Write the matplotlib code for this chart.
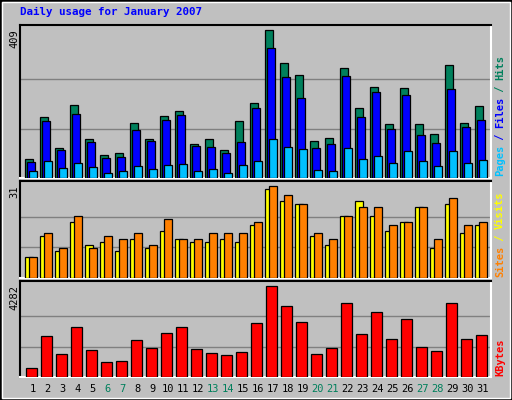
import matplotlib
matplotlib.use("Agg")
import matplotlib.pyplot as plt
from matplotlib.patches import Rectangle

days = list(range(1, 32))
weekend = [6, 7, 13, 14, 20, 21, 27, 28]
hits = [53,169,83,202,108,63,68,152,108,171,185,94,108,77,158,208,409,319,286,102,111,305,194,252,149,249,149,121,313,152,199]
files = [44,158,77,177,100,55,58,132,102,160,173,88,85,69,100,194,358,280,221,83,94,283,169,238,135,230,119,96,246,141,160]
pages = [19,46,27,41,30,15,19,32,24,35,38,19,24,15,35,46,108,85,80,21,19,83,52,60,41,74,46,32,74,41,49]
visits = [7,14,9,19,11,12,9,13,10,16,13,12,12,13,12,18,30,26,25,14,11,21,26,21,16,19,24,10,25,15,18]
sites = [7,15,10,21,10,14,13,15,11,20,13,13,15,15,15,19,31,28,25,15,13,21,24,24,18,19,24,13,27,18,19]
kbytes = [438,1938,1094,2360,1282,719,766,1751,1375,2079,2360,1329,1141,1047,1188,2548,4282,3345,2594,1094,1375,3485,2032,3063,1797,2735,1422,1235,3485,1797,1985]

W, H = 512, 400
SLOT = 15.0
fig = plt.figure(figsize=(W/100, H/100), dpi=100)
fig.patch.set_facecolor('#C0C0C0')
fig.add_artist(Rectangle((0, 0), 1, 1, transform=fig.transFigure, fill=False, ec='black', lw=2))
fig.add_artist(Rectangle((2/W, 2/H), 1-4/W, 1-4/H, transform=fig.transFigure, fill=False, ec='white', lw=1))

mono = 'DejaVu Sans Mono'
GRID = '#808080'

def mkax(y0, y1):
    ax = fig.add_axes([20/W, 1-y1/H, 471/W, (y1-y0)/H])
    ax.set_facecolor('#C0C0C0')
    ax.set_xlim(0, 471/SLOT)
    ax.set_xticks([]); ax.set_yticks([])
    for s in ['left', 'top']:
        ax.spines[s].set_color('black')
    for s in ['right', 'bottom']:
        ax.spines[s].set_color('white')
    for sp in ax.spines.values():
        sp.set_linewidth(1.5)
    return ax

def bars(ax, vals, off, w, color):
    ax.bar([d-1+off for d in days], vals, width=w, align='edge', color=color,
           edgecolor='black', linewidth=0.9, zorder=3)

ax1 = mkax(25, 178)
top1 = max(hits)
ax1.set_ylim(0, top1*152/147)
for f in (1/3, 2/3):
    ax1.axhline(top1*f, color=GRID, lw=1, zorder=1)
bars(ax1, hits, 0.35, 0.49, '#00805C')
bars(ax1, files, 0.47, 0.50, '#0000FF')
bars(ax1, pages, 0.62, 0.49, '#00C0FF')

ax2 = mkax(181, 278)
top2 = max(sites)
ax2.set_ylim(0, top2*97/92)
for f in (1/3, 2/3):
    ax2.axhline(top2*f, color=GRID, lw=1, zorder=1)
bars(ax2, visits, 0.35, 0.49, '#FFFF00')
bars(ax2, sites, 0.62, 0.49, '#FF8000')

ax3 = mkax(281, 377)
top3 = max(kbytes)
ax3.set_ylim(0, top3*96/91)
for f in (1/3, 2/3):
    ax3.axhline(top3*f, color=GRID, lw=1, zorder=1)
bars(ax3, kbytes, 0.42, 0.69, '#FF0000')

fig.text(20/W, 1-12/H, 'Daily usage for January 2007', color='#0000FF', family=mono,
         fontweight='bold', fontsize=7.8, va='center', ha='left')

for y, t in [(29, str(max(hits))), (185, str(max(sites))), (285, str(max(kbytes)))]:
    fig.text(14/W, 1-y/H, t, rotation=90, family=mono, fontsize=7.5, ha='center', va='top')

for d in days:
    x = 20 + (d-1)*SLOT + 12.5
    fig.text(x/W, 1-389/H, str(d), family=mono, fontsize=7.5, ha='center', va='center',
             color='#00805C' if d in weekend else 'black')

def rlabel(parts, ybot):
    y = ybot
    for txt, col in parts:
        fig.text(500/W, 1-y/H, txt, rotation=90, family=mono, fontsize=7.5,
                 color=col, ha='center', va='bottom', fontweight='bold')
        y -= len(txt)*6.0

rlabel([('Pages', '#00C0FF'), (' / ', '#0000FF'), ('Files', '#0000FF'), (' / ', '#00805C'), ('Hits', '#00805C')], 176)
rlabel([('Sites', '#FF8000'), (' / ', '#FFFF00'), ('Visits', '#FFFF00')], 277)
rlabel([('KBytes', '#FF0000')], 376)

fig.savefig('out.png', dpi=100, facecolor=fig.get_facecolor())
